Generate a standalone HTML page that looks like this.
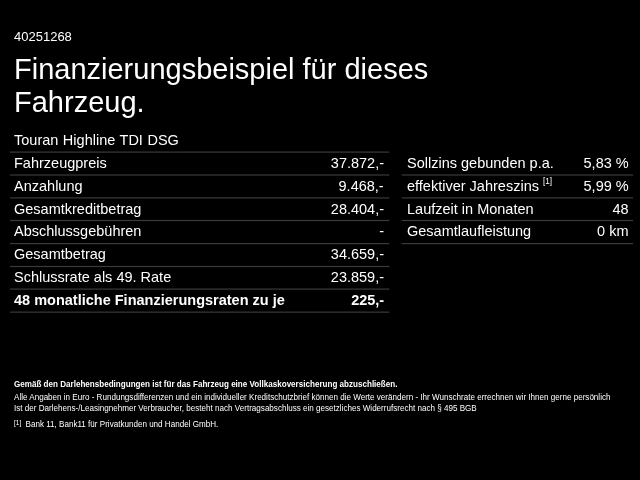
<!DOCTYPE html>
<html><head><meta charset="utf-8">
<style>
html,body{margin:0;padding:0;background:#000;}
body{width:640px;height:480px;overflow:hidden;position:relative;font-family:"Liberation Sans",sans-serif;color:#fff;}
#id{position:absolute;left:14px;top:29px;font-size:13px;line-height:15px;}
#h{position:absolute;left:14px;top:52px;transform:translateY(0.85px);font-size:29px;line-height:33px;width:600px;}
table{position:absolute;border-collapse:collapse;font-size:15px;}
td{padding:0 4px 2px;height:20px;border-bottom:1px solid transparent;line-height:20px;white-space:nowrap;}
tr.s td{padding-bottom:1px;}
#t1{left:10px;top:130px;width:379px;}
#t2{left:402px;top:153px;width:231px;}
td.r{text-align:right;}
#t1 td.r{padding-right:4.9px;}
.t{display:inline-block;transform:scaleX(0.967);transform-origin:0 0;}
td.r .t{transform-origin:100% 0;}
#t1 tr:first-child .t{word-spacing:0.5px;}
#t2 td:first-child{padding-left:4.8px;}
tr.b td{font-weight:bold;}
sup{font-size:8.5px;vertical-align:baseline;position:relative;top:-7px;line-height:1;}
.f{position:absolute;left:14px;font-size:8.6px;line-height:10px;white-space:nowrap;transform-origin:0 0;transform:translateY(0.5px) scaleX(0.9395);}
</style></head><body>
<div id="w" style="position:absolute;left:0;top:0;width:640px;height:480px;will-change:transform;">
<div id="id">40251268</div>
<div id="h">Finanzierungsbeispiel für dieses<br>Fahrzeug.</div>
<table id="t1">
<tr><td colspan="2"><span class="t">Touran Highline TDI DSG</span></td></tr>
<tr><td><span class="t">Fahrzeugpreis</span></td><td class="r"><span class="t">37.872,-</span></td></tr>
<tr><td><span class="t">Anzahlung</span></td><td class="r"><span class="t">9.468,-</span></td></tr>
<tr class="s"><td><span class="t">Gesamtkreditbetrag</span></td><td class="r"><span class="t">28.404,-</span></td></tr>
<tr><td><span class="t">Abschlussgebühren</span></td><td class="r"><span class="t">-</span></td></tr>
<tr><td><span class="t">Gesamtbetrag</span></td><td class="r"><span class="t">34.659,-</span></td></tr>
<tr><td><span class="t">Schlussrate als 49. Rate</span></td><td class="r"><span class="t">23.859,-</span></td></tr>
<tr class="b"><td><span class="t">48 monatliche Finanzierungsraten zu je</span></td><td class="r"><span class="t">225,-</span></td></tr>
</table>
<table id="t2">
<tr><td><span class="t">Sollzins gebunden p.a.</span></td><td class="r"><span class="t">5,83 %</span></td></tr>
<tr><td><span class="t">effektiver Jahreszins <sup>[1]</sup></span></td><td class="r"><span class="t">5,99 %</span></td></tr>
<tr class="s"><td><span class="t">Laufzeit in Monaten</span></td><td class="r"><span class="t">48</span></td></tr>
<tr><td><span class="t">Gesamtlaufleistung</span></td><td class="r"><span class="t">0 km</span></td></tr>
</table>
<svg id="ln" width="640" height="480" viewBox="0 0 640 480" style="position:absolute;left:0;top:0;" fill="#3a3a3a"><rect x="10" y="151.50" width="379.3" height="1.2"/><rect x="10" y="174.40" width="379.3" height="1.2"/><rect x="401.7" y="174.40" width="231.4" height="1.2"/><rect x="10" y="197.30" width="379.3" height="1.2"/><rect x="401.7" y="197.30" width="231.4" height="1.2"/><rect x="10" y="219.90" width="379.3" height="1.2"/><rect x="401.7" y="219.90" width="231.4" height="1.2"/><rect x="10" y="243.00" width="379.3" height="1.2"/><rect x="401.7" y="243.00" width="231.4" height="1.2"/><rect x="10" y="265.90" width="379.3" height="1.2"/><rect x="10" y="288.50" width="379.3" height="1.2"/><rect x="10" y="311.55" width="379.3" height="1.2"/></svg>
<div class="f" style="top:379px;font-weight:bold;transform:translateY(0px) scaleX(0.9395);">Gemäß den Darlehensbedingungen ist für das Fahrzeug eine Vollkaskoversicherung abzuschließen.</div>
<div class="f" style="top:392px;transform:translateY(-0.3px) scaleX(0.9395);">Alle Angaben in Euro - Rundungsdifferenzen und ein individueller Kreditschutzbrief können die Werte verändern - Ihr Wunschrate errechnen wir Ihnen gerne persönlich</div>
<div class="f" style="top:403px;transform:translateY(0.1px) scaleX(0.9395);">Ist der Darlehens-/Leasingnehmer Verbraucher, besteht nach Vertragsabschluss ein gesetzliches Widerrufsrecht nach § 495 BGB</div>
<div class="f" style="top:419px;transform:translateY(0.45px) scaleX(0.9395);"><span style="font-size:7px;position:relative;top:-1.7px;">[1]</span><span style="display:inline-block;width:4.5px"></span>Bank 11, Bank11 für Privatkunden und Handel GmbH.</div>
</div>
</body></html>
